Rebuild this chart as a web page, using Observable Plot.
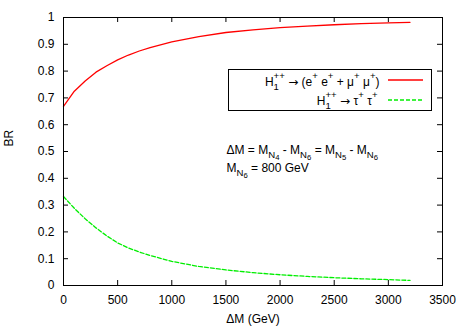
<!DOCTYPE html>
<html><head><meta charset="utf-8">
<script src="https://cdn.jsdelivr.net/npm/d3@7"></script>
<script src="https://cdn.jsdelivr.net/npm/@observablehq/plot@0.6"></script>
<style>body{margin:0;background:#fff;} svg{display:block}</style>
</head><body><div id="chart"></div>
<script>
// ΔM (GeV) sample points
const deltaM = [0, 100, 200, 300, 400, 500, 600, 700, 800, 1000, 1250, 1500, 1750, 2000, 2250, 2500, 2750, 3000, 3200];
// BR(H1++ -> e+e+ + mu+mu+)
const brLight = [0.668, 0.725, 0.763, 0.796, 0.820, 0.842, 0.860, 0.875, 0.888, 0.909, 0.929, 0.944, 0.954, 0.962, 0.968, 0.973, 0.977, 0.980, 0.982];
// BR(H1++ -> tau+ tau+)
const brTau = [0.332, 0.288, 0.249, 0.215, 0.185, 0.159, 0.140, 0.125, 0.112, 0.090, 0.071, 0.058, 0.048, 0.040, 0.034, 0.029, 0.025, 0.022, 0.019];
const xTicks = [0, 500, 1000, 1500, 2000, 2500, 3000, 3500];
const yTicks = [0, 0.1, 0.2, 0.3, 0.4, 0.5, 0.6, 0.7, 0.8, 0.9, 1];
const seriesLabels = ["H_{1}^{++} → (e^{+} e^{+} + μ^{+} μ^{+})", "H_{1}^{++} → τ^{+} τ^{+}"];
const noteLines = ["ΔM = M_{N_{4}} - M_{N_{6}} = M_{N_{5}} - M_{N_{6}}", "M_{N_{6}} = 800 GeV"];
const xLabel = "ΔM (GeV)";
const yLabel = "BR";

const W = 466, H = 327;
const mL = 63, mR = 24, mT = 17, mB = 42;
const plotH = H - mT - mB;
const plotW = W - mL - mR;

const light = deltaM.map((x, i) => ({x, y: brLight[i]}));
const tau = deltaM.map((x, i) => ({x, y: brTau[i]}));

const chart = Plot.plot({
  width: W, height: H,
  marginLeft: mL, marginRight: mR, marginTop: mT, marginBottom: mB,
  style: {fontFamily: "'Liberation Sans', Arial, sans-serif", fontSize: "12px", color: "black", background: "white"},
  x: {domain: [0, 3500]},
  y: {domain: [0, 1]},
  marks: [
    Plot.axisX({ticks: xTicks, tickSize: 0, tickPadding: 10, label: null, tickFormat: d3.format("d")}),
    Plot.axisY({ticks: yTicks, tickSize: 0, tickPadding: 9, label: null, tickFormat: d3.format("~g")}),
    Plot.tickX(xTicks, {x: d => d, insetTop: plotH - 5, stroke: "black"}),
    Plot.tickX(xTicks, {x: d => d, insetBottom: plotH - 5, stroke: "black"}),
    Plot.tickY(yTicks, {y: d => d, insetRight: plotW - 5, stroke: "black"}),
    Plot.tickY(yTicks, {y: d => d, insetLeft: plotW - 5, stroke: "black"}),
    Plot.line(light, {x: "x", y: "y", stroke: "#ff0000", strokeWidth: 1.3}),
    Plot.line(tau, {x: "x", y: "y", stroke: "#00ee00", strokeWidth: 1.3, strokeDasharray: "4,2"}),
    Plot.frame({stroke: "black"}),
    Plot.text([xLabel], {frameAnchor: "bottom", dy: 37, lineAnchor: "bottom", fill: "black"}),
    Plot.text([yLabel], {frameAnchor: "left", rotate: -90, dx: -54, dy: -5, lineAnchor: "middle", fill: "black"}),
    Plot.text([seriesLabels[0]], {frameAnchor: "top-right", dx: -63, dy: 68, textAnchor: "end", lineAnchor: "bottom", fill: "black"}),
    Plot.text([seriesLabels[1]], {frameAnchor: "top-right", dx: -65, dy: 87, textAnchor: "end", lineAnchor: "bottom", fill: "black"}),
    Plot.text([noteLines[0]], {frameAnchor: "top-left", dx: 163, dy: 136, textAnchor: "start", lineAnchor: "bottom", fill: "black"}),
    Plot.text([noteLines[1]], {frameAnchor: "top-left", dx: 163, dy: 154, textAnchor: "start", lineAnchor: "bottom", fill: "black"})
  ]
});
document.getElementById("chart").appendChild(chart);

// legend box and samples (gnuplot style key)
const svg = d3.select(chart);
const key = svg.append("g");
key.append("rect").attr("x", mL + 165.5).attr("y", mT + 52.5).attr("width", 203).attr("height", 41)
  .attr("fill", "none").attr("stroke", "black").attr("stroke-width", 1);
key.append("line").attr("x1", mL + 325).attr("x2", mL + 360).attr("y1", mT + 63).attr("y2", mT + 63)
  .attr("stroke", "#ff0000").attr("stroke-width", 1.3);
key.append("line").attr("x1", mL + 325).attr("x2", mL + 360).attr("y1", mT + 83).attr("y2", mT + 83)
  .attr("stroke", "#00ee00").attr("stroke-width", 1.3).attr("stroke-dasharray", "4,2");

// rich text: _{} subscript, ^{} superscript (gnuplot enhanced text style)
const NS = "http://www.w3.org/2000/svg";
function appendRich(parent, str, size) {
  let i = 0, buf = "", lastSub = null;
  const flush = () => {
    if (buf) { const t = document.createElementNS(NS, "tspan"); t.textContent = buf; parent.appendChild(t); buf = ""; lastSub = null; }
  };
  while (i < str.length) {
    const c = str[i];
    if ((c === "_" || c === "^") && str[i + 1] === "{") {
      flush();
      let depth = 1, j = i + 2;
      while (j < str.length && depth > 0) { if (str[j] === "{") depth++; else if (str[j] === "}") depth--; j++; }
      const inner = str.slice(i + 2, j - 1);
      const s = size * 0.8;
      const t = document.createElementNS(NS, "tspan");
      t.setAttribute("font-size", s + "px");
      t.setAttribute("baseline-shift", (c === "^" ? size * 0.55 : -size * 0.3) + "px");
      if (c === "^" && lastSub) t.setAttribute("dx", -lastSub.getComputedTextLength());
      parent.appendChild(t);
      appendRich(t, inner, s);
      lastSub = c === "_" ? t : null;
      i = j;
    } else if (c === "→") {
      flush();
      const t = document.createElementNS(NS, "tspan");
      t.setAttribute("font-family", "'DejaVu Sans', sans-serif");
      t.setAttribute("font-size", "12px");
      t.textContent = c;
      parent.appendChild(t);
      i++;
    } else { buf += c; i++; }
  }
  flush();
}
svg.selectAll("text").each(function() {
  const s = this.textContent;
  if (s.includes("_{") || s.includes("^{")) {
    this.textContent = "";
    appendRich(this, s, 12);
  }
});
</script>
</body></html>
